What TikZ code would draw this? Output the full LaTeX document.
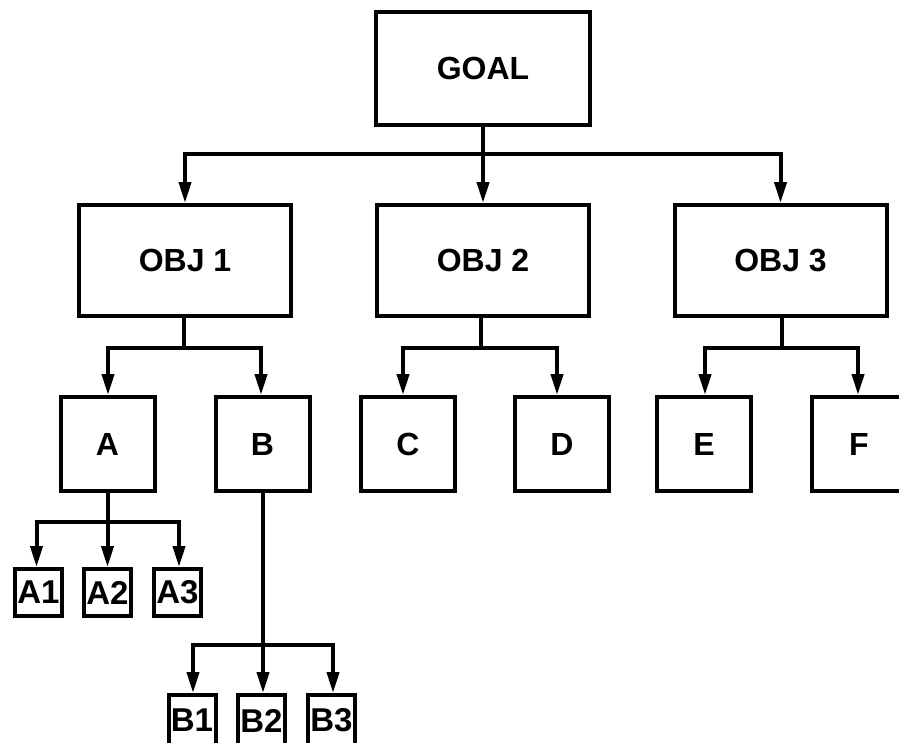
\documentclass[tikz,border=0pt]{standalone}
\usepackage{fontspec}
\setmainfont{Liberation Sans}
\usetikzlibrary{arrows.meta}
\begin{document}
\begin{tikzpicture}[x=1pt,y=-1pt,
  box/.style={draw,line width=4pt,inner sep=0pt,font=\fontsize{32}{38}\selectfont\bfseries},
  bigbox/.style={box,minimum width=212pt,minimum height=111pt},
  midbox/.style={box,minimum width=94pt,minimum height=94pt},
  smallbox/.style={box,minimum width=47pt,minimum height=47pt,font=\fontsize{33}{38}\selectfont\bfseries},
  conn/.style={line width=4pt},
  arr/.style={conn,-{Triangle[length=21pt,width=12pt]}}]
\clip (0,0) rectangle (899,742);
\node[box,minimum width=214pt,minimum height=113pt] (GOAL) at (483,68.5) {GOAL};
\node[bigbox] (OBJ1) at (185,260.5) {OBJ 1};
\node[bigbox] (OBJ2) at (483,260.5) {OBJ 2};
\node[bigbox] (OBJ3) at (780.5,260.5) {OBJ 3};
\node[midbox] (A) at (107.5,444) {A};
\node[midbox] (B) at (262.5,444) {B};
\node[midbox] (C) at (408,444) {C};
\node[midbox] (D) at (562,444) {D};
\node[midbox] (E) at (704,444) {E};
\node[midbox] (F) at (859,444) {F};
\node[smallbox] (A1) at (38.5,592.5) {A1};
\node[smallbox] (A2) at (107.5,592.5) {A2};
\node[smallbox] (A3) at (177.5,592.5) {A3};
\node[smallbox,minimum height=51pt] (B1) at (192,720.5) {B1};
\node[smallbox,minimum height=51pt] (B2) at (261.5,720.5) {B2};
\node[smallbox,minimum height=51pt] (B3) at (331.5,720.5) {B3};
% goal level
\coordinate (g) at (483,154);
\draw[conn] (GOAL.south) -- (g);
\draw[arr] (g) -| (OBJ1.north);
\draw[arr] (g) -- (OBJ2.north);
\draw[arr] (g) -| (OBJ3.north);
% obj 1
\coordinate (o1) at (184,348);
\draw[conn] (OBJ1.south -| o1) -- (o1);
\draw[arr] (o1) -| ([xshift=0.5pt]A.north);
\draw[arr] (o1) -| ([xshift=-1.5pt]B.north);
% obj 2
\coordinate (o2) at (481,348);
\draw[conn] (OBJ2.south -| o2) -- (o2);
\draw[arr] (o2) -| ([xshift=-5pt]C.north);
\draw[arr] (o2) -| ([xshift=-5pt]D.north);
% obj 3
\coordinate (o3) at (782,348);
\draw[conn] (OBJ3.south -| o3) -- (o3);
\draw[arr] (o3) -| ([xshift=1pt]E.north);
\draw[arr] (o3) -| ([xshift=-1pt]F.north);
% A
\coordinate (a) at (107.5,522);
\draw[conn] (A.south) -- (a);
\draw[arr] (a) -| ([xshift=-2pt]A1.north);
\draw[arr] (a) -- (A2.north);
\draw[arr] (a) -| ([xshift=1.5pt]A3.north);
% B
\coordinate (b) at (263,645);
\draw[conn] (B.south -| b) -- (b);
\draw[arr] (b) -| ([xshift=1pt]B1.north);
\draw[arr] (b) -- (B2.north -| b);
\draw[arr] (b) -| ([xshift=1.5pt]B3.north);
\end{tikzpicture}
\end{document}
